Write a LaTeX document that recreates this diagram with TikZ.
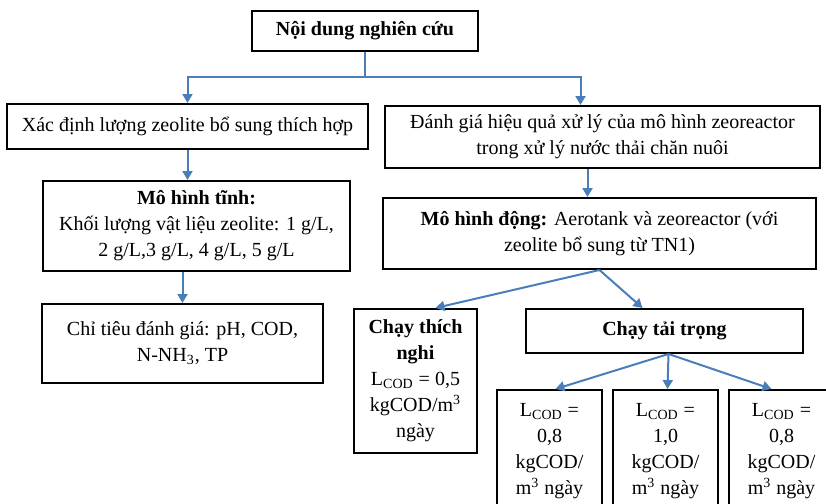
\documentclass[tikz,border=0pt]{standalone}
\usepackage{fontspec}
\setmainfont{Liberation Serif}
\usepackage{xcolor}
\usepackage{tikz}
\usetikzlibrary{positioning, arrows.meta}
\definecolor{linkblue}{HTML}{4A7EBB}

\begin{document}
\begin{tikzpicture}[x=0.5pt, y=-0.5pt,
    box/.style={draw=black, line width=1pt, align=center, inner sep=2pt,
                font=\fontsize{10}{13}\selectfont},
    link/.style={draw=linkblue, line width=1pt, -{Triangle[width=5pt, length=4.5pt]}}]
    \useasboundingbox (0,0) rectangle (826,504);
    \clip (0,0) rectangle (826,504);
    \node[box, minimum width=113pt, minimum height=20pt] (content) at (365,31)
      {\textbf{Nội dung nghiên cứu}};
    \node[box, minimum width=180.5pt, minimum height=22.5pt] (amount) at (187.5,126.5)
      {Xác định lượng zeolite bổ sung thích hợp};
    \node[box, minimum width=217.5pt, minimum height=31pt] (eval) at (602.5,137)
      {Đánh giá hiệu quả xử lý của mô hình zeoreactor\\
       trong xử lý nước thải chăn nuôi};
    \node[box, minimum width=153.5pt, minimum height=45pt] (static) at (196.5,226)
      {\textbf{Mô hình tĩnh:}\\
       Khối lượng vật liệu zeolite: 1 g/L,\\
       2 g/L,3 g/L, 4 g/L, 5 g/L};
    \node[box, minimum width=140.5pt, minimum height=39.5pt] (criteria) at (182.5,343.5)
      {Chỉ tiêu đánh giá: pH, COD,\\
       N-NH\textsubscript{3}, TP};
    \node[box, minimum width=216.5pt, minimum height=35.5pt] (dynamic) at (599.5,233.5)
      {\textbf{Mô hình động:} Aerotank và zeoreactor (với\\
       zeolite bổ sung từ TN1)};
    \node[box, minimum width=61.5pt, minimum height=72pt] (adapt) at (415.5,381)
      {\textbf{Chạy thích}\\ \textbf{nghi}\\
       L\textsubscript{COD} = 0,5\\ kgCOD/m\textsuperscript{3}\\ ngày};
    \node[box, minimum width=138.5pt, minimum height=22pt] (load) at (664.5,331)
      {\textbf{Chạy tải trọng}};
    \node[box, minimum width=52.5pt, minimum height=61pt] (loadA) at (549.5,451)
      {L\textsubscript{COD} =\\ 0,8\\ kgCOD/\\ m\textsuperscript{3} ngày};
    \node[box, minimum width=52.5pt, minimum height=61pt] (loadB) at (665.5,451)
      {L\textsubscript{COD} =\\ 1,0\\ kgCOD/\\ m\textsuperscript{3} ngày};
    \node[box, minimum width=52.5pt, minimum height=61pt] (loadC) at (781.5,451)
      {L\textsubscript{COD} =\\ 0,8\\ kgCOD/\\ m\textsuperscript{3} ngày};

    \coordinate (split) at ([yshift=-12.5pt]content.south);
    \draw[link] (content.south) -- (split) -| (amount.north);
    \draw[link] (split) -| ([xshift=-11pt]eval.north);
    \draw[link] (amount.south) -- (amount.south |- static.north);
    \draw[link] (criteria.north |- static.south) -- (criteria.north);
    \draw[link] ([xshift=-6pt]dynamic.north |- eval.south) -- ([xshift=-6pt]dynamic.north);
    \draw[link] (dynamic.south) -- ([xshift=10pt]adapt.north);
    \draw[link] (dynamic.south) -- ([xshift=-11pt]load.north);
    \draw[link] ([xshift=2pt]load.south) -- ([xshift=3pt]loadA.north);
    \draw[link] ([xshift=2pt]load.south) -- ([xshift=1pt]loadB.north);
    \draw[link] ([xshift=2pt]load.south) -- ([xshift=-5pt]loadC.north);
  \end{tikzpicture}
\end{document}
